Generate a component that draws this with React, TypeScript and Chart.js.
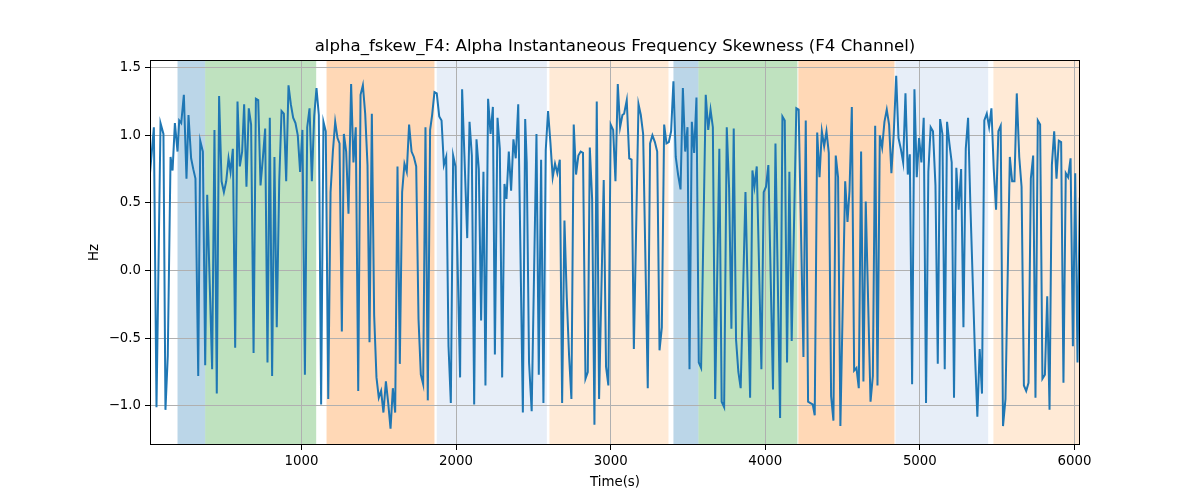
import React, { useEffect, useRef } from 'react';
import { Chart, registerables } from 'chart.js';

Chart.register(...registerables);

// sample times (s) and alpha frequency skewness values (Hz)
const times = [
  20, 45, 62, 88, 107, 120, 135, 153, 166, 181, 198, 209, 222, 239, 256, 269, 286, 300, 314, 332,
  345, 362, 377, 390, 422, 437, 452, 467, 483, 498, 513, 528, 541, 556, 571, 586, 601, 616, 629,
  644, 659, 674, 690, 705, 720, 735, 750, 765, 780, 795, 810, 825, 840, 856, 871, 886, 901, 916,
  931, 946, 961, 976, 991, 1006, 1022, 1037, 1052, 1067, 1082, 1097, 1112, 1127, 1142, 1157, 1173,
  1188, 1203, 1218, 1233, 1246,
  1261, 1274, 1289, 1304, 1321, 1336, 1351, 1367, 1382, 1397, 1412, 1427, 1440, 1455, 1470, 1485,
  1500, 1515, 1530, 1546, 1561, 1576, 1591, 1606, 1621, 1636, 1651, 1666, 1681, 1696, 1712, 1727,
  1742, 1757, 1772, 1787, 1802, 1817, 1832,
  1845, 1860, 1875, 1891, 1906, 1921, 1936, 1951, 1966, 1981, 1996, 2026, 2039, 2054, 2072, 2087,
  2102, 2117, 2132, 2147, 2162, 2177, 2190, 2207, 2223, 2238, 2251, 2268, 2283, 2298, 2313, 2326,
  2341, 2356, 2371, 2386, 2402, 2432, 2447,
  2457, 2472, 2489, 2520, 2535, 2550, 2565, 2580, 2595, 2610, 2625, 2640, 2655, 2671, 2686, 2701,
  2716, 2731, 2746, 2761, 2776, 2791, 2806, 2821, 2837, 2852, 2865, 2880, 2895, 2910, 2925, 2955,
  2970, 2985, 3000, 3016, 3031, 3046, 3061, 3076,
  3087, 3104, 3120, 3135, 3150, 3180, 3195, 3210, 3240, 3255, 3270, 3286, 3301, 3316, 3331, 3346,
  3361, 3376, 3391, 3406, 3421, 3436, 3452, 3467, 3482, 3497, 3510, 3525, 3540, 3555, 3570, 3585,
  3615, 3631, 3646, 3661, 3676,
  3703, 3718, 3734, 3751, 3766, 3781, 3796, 3811, 3826, 3841, 3872, 3902, 3917, 3930, 3945, 3975,
  3990, 4005, 4020, 4050, 4066, 4096, 4111, 4126, 4141, 4156, 4171, 4201, 4216, 4247, 4262, 4277,
  4292, 4307,
  4320, 4336, 4351, 4366, 4381, 4396, 4411, 4426, 4441, 4456, 4471, 4486, 4517, 4532, 4545, 4560,
  4575, 4590, 4605, 4620, 4635, 4650, 4681, 4696, 4711, 4726, 4741, 4756, 4771, 4786, 4801, 4816,
  4831, 4847, 4862, 4877, 4892, 4907, 4922,
  4935, 4950, 4965, 4980, 4995, 5010, 5025, 5040, 5055, 5070, 5085, 5101, 5116, 5131, 5146, 5161,
  5176, 5191, 5206, 5221, 5236, 5251, 5267, 5282, 5297, 5312, 5327, 5357, 5372, 5387, 5402, 5417,
  5433, 5448, 5463, 5478, 5493, 5508, 5523, 5538,
  5554, 5582, 5597, 5612, 5627, 5643, 5658, 5673, 5688, 5703, 5718, 5733, 5748, 5763, 5778, 5793,
  5809, 5824, 5839, 5854, 5869, 5884, 5899, 5914, 5929, 5944, 5959, 5975, 5990, 6005, 6020, 6035,
];

const hz = [
  0.72, 1.06, -1.01, 1.09, 1.01, -1.03, -0.63, 0.84, 0.74, 1.09, 0.88, 1.11, 1.09, 1.30, 0.68, 1.15, 0.83, 0.75, 0.68, -0.78,
  0.96, 0.88, -0.70, 0.56, -0.73, 1.04, -0.91, 1.29, 0.66, 0.58, 0.66, 0.83, 0.73, 0.90, -0.57, 1.25, 0.77, 0.88, 1.23,
  0.62, 1.20, 1.08, -0.61, 1.27, 1.26, 0.63, 0.83, 1.05, -0.68, 1.13, -0.78, 0.84, -0.42, 0.66, 1.18, 1.16, 0.66, 1.37,
  1.23, 1.13, 1.09, 1.00, 0.73, 1.04, -0.77, 1.06, 1.20, 0.66, 1.14, 1.35, 1.15, -0.99, 1.10, 1.03, -0.95,
  0.58, 0.88, 1.10, 0.98, 0.94,
  -0.45, 1.01, 0.88, 0.42, 1.38, 0.80, 1.06, -0.89, 1.30, 1.37, 1.16, 0.78, -0.53, 1.16, -0.33, -0.79,
  -0.94, -0.89, -1.05, -0.82, -0.98, -1.17, -0.87, -1.05, 0.77, -0.69, 0.58, 0.79, 0.73, 1.08, 0.88, 0.84,
  0.77, -0.36, -0.77, -0.84, 1.06, -0.96, 1.04,
  1.15, 1.32, 1.31, 1.14, 1.11, 0.78, 0.84, -0.56, -0.98, 0.85, 0.77, -0.79, 1.34, 0.85, 0.24, 1.10,
  0.85, -0.99, 0.97, 0.75, -0.37, 0.73, -0.85, 1.27, 1.01, 1.21, -0.62, 1.13, 0.90, -0.79, 0.64, 0.53,
  0.88, 0.59, 0.97, 0.83, 1.23, -1.05, 1.12,
  0.80, -0.68, -1.04, 1.01, -0.77, 0.82, -0.98, 0.89, 1.18, 0.95, 0.69, 0.79, 0.72, 0.82, -0.98, 0.37,
  -0.20, -0.63, -0.95, 1.08, 0.71, 0.85, 0.88, 0.87, -0.80, -0.75, 0.91, 0.53, -1.14, 1.25, -0.95, 0.67,
  -0.71, -0.85, 1.08, 1.04, 0.66, 1.38, 1.06, 1.15,
  1.16, 1.26, 0.83, 0.82, -0.58, 1.23, 1.15, 1.01, -0.87, 0.94, 1.00, 0.95, 0.88, -0.59, -0.42, 1.08,
  0.94, 0.95, 1.03, 1.40, 0.84, 0.71, 0.60, 1.35, 0.88, 1.06, -0.73, 1.10, 0.87, 1.28, -0.68, -0.72,
  1.30, 1.04, 1.19, 1.06, -0.95,
  0.90, -0.97, -1.01, 1.06, 0.61, -0.43, 1.05, -0.51, -0.75, -0.87, 0.58, -0.94, 0.74, 0.62, 0.77, -0.73,
  0.58, 0.62, 0.78, -0.88, 0.94, -1.09, 1.14, 1.11, -0.68, 0.73, -0.52, 1.20, 1.19, -0.64, 1.11, -0.97,
  -0.98, -0.99,
  -1.07, 1.02, 0.69, 1.03, 0.92, 1.03, 0.87, -0.93, -1.11, 0.85, 0.69, -1.15, 0.66, 0.36, 0.59, 1.21,
  -0.74, -0.72, -0.87, 0.88, -0.82, 0.51, -0.97, -0.78, 1.07, -0.85, 1.00, 0.91, 1.10, 1.19, 1.08, 0.72,
  1.01, 1.44, 0.98, 0.90, 0.80, 1.31, 0.71,
  0.86, -0.84, 1.34, 0.69, 0.98, 0.80, 1.13, -0.98, 0.73, 1.06, 1.03, 0.63, -0.69, 1.12, 1.01, -0.73,
  1.10, 0.94, 0.80, -0.94, 0.76, 0.45, 0.75, -0.42, 0.90, 1.13, 0.48, -0.63, -1.08, -0.58, -0.91, 1.11,
  1.16, 1.06, 1.20, 0.75, 0.45, 1.03, 1.07, -1.15,
  -0.95, 0.84, 0.66, 0.66, 1.31, 0.84, 0.62, -0.85, -0.89, -0.83, 0.68, 0.85, -0.94, 1.11, 1.08, -0.80,
  -0.77, -0.19, -1.03, 0.78, 1.03, 0.68, 0.96, 0.95, -0.83, 0.72, 0.69, 0.83, -0.56, 0.72, -0.68, 0.54,
];

// shaded stage spans (s)
const bandStart = [198, 377, 1162, 1875, 2604, 3406, 3568, 4214, 4842, 5476];
const bandEnd = [377, 1095, 1860, 2587, 3374, 3568, 4208, 4836, 5442, 6036];
const bandColor = [
  'rgba(31,119,180,0.3)',
  'rgba(44,160,44,0.3)',
  'rgba(255,127,14,0.3)',
  'rgba(174,199,232,0.3)',
  'rgba(255,187,120,0.3)',
  'rgba(31,119,180,0.3)',
  'rgba(44,160,44,0.3)',
  'rgba(255,127,14,0.3)',
  'rgba(174,199,232,0.3)',
  'rgba(255,187,120,0.3)',
];

const xTicks = [1000, 2000, 3000, 4000, 5000, 6000];
const yTicks = [-1.0, -0.5, 0.0, 0.5, 1.0, 1.5];

const FONT = '"DejaVu Sans", sans-serif';

const decorPlugin = {
  id: 'decor',
  beforeDraw(chart: any) {
    const { ctx, chartArea } = chart;
    const x = chart.scales.x;
    ctx.save();
    ctx.beginPath();
    ctx.rect(chartArea.left, chartArea.top, chartArea.right - chartArea.left, chartArea.bottom - chartArea.top);
    ctx.clip();
    for (let i = 0; i < bandStart.length; i++) {
      const x0 = x.getPixelForValue(bandStart[i]);
      const x1 = x.getPixelForValue(bandEnd[i]);
      ctx.fillStyle = bandColor[i];
      ctx.fillRect(x0, chartArea.top, x1 - x0, chartArea.bottom - chartArea.top);
    }
    ctx.restore();
  },
  afterDraw(chart: any) {
    const { ctx, chartArea } = chart;
    const cx = (chartArea.left + chartArea.right) / 2;
    const cy = (chartArea.top + chartArea.bottom) / 2;
    ctx.save();
    ctx.strokeStyle = '#000';
    ctx.lineWidth = 1;
    ctx.strokeRect(chartArea.left + 0.5, chartArea.top + 0.5, chartArea.right - chartArea.left - 1, chartArea.bottom - chartArea.top - 1);
    ctx.fillStyle = '#000';
    ctx.textAlign = 'center';
    ctx.textBaseline = 'alphabetic';
    ctx.font = `16.6px ${FONT}`;
    ctx.fillText('alpha_fskew_F4: Alpha Instantaneous Frequency Skewness (F4 Channel)', cx, 51);
    ctx.font = `13.33px ${FONT}`;
    ctx.fillText('Time(s)', cx, 486);
    ctx.translate(98, cy);
    ctx.rotate(-Math.PI / 2);
    ctx.fillText('Hz', 0, 0);
    ctx.restore();
  },
};

const App: React.FC = () => {
  const canvasRef = useRef<HTMLCanvasElement | null>(null);
  const chartRef = useRef<Chart | null>(null);

  useEffect(() => {
    if (!canvasRef.current) return;
    if (chartRef.current) chartRef.current.destroy();

    const points = times.map((t, i) => ({ x: t, y: hz[i] }));
    const tickFont = { family: FONT, size: 13.33 };

    chartRef.current = new Chart(canvasRef.current, {
      type: 'line',
      data: {
        datasets: [
          {
            data: points,
            borderColor: '#1f77b4',
            borderWidth: 2,
            pointRadius: 0,
            tension: 0,
            fill: false,
          },
        ],
      },
      options: {
        animation: false,
        responsive: false,
        events: [],
        layout: { padding: { top: 60, right: 120, bottom: 0, left: 0 } },
        plugins: { legend: { display: false }, tooltip: { enabled: false }, title: { display: false } },
        scales: {
          x: {
            type: 'linear',
            min: 20,
            max: 6036,
            afterBuildTicks: (s: any) => {
              s.ticks = xTicks.map((v) => ({ value: v }));
            },
            afterFit: (s: any) => {
              s.height = 55;
            },
            grid: { color: '#b0b0b0', lineWidth: 1, tickColor: '#000', tickLength: 5, tickWidth: 1 },
            border: { display: false },
            ticks: {
              autoSkip: false,
              maxRotation: 0,
              padding: 4,
              color: '#000',
              font: tickFont,
              callback: (v: any) => String(v),
            },
          },
          y: {
            type: 'linear',
            min: -1.29,
            max: 1.557,
            afterBuildTicks: (s: any) => {
              s.ticks = yTicks.map((v) => ({ value: v }));
            },
            afterFit: (s: any) => {
              s.width = 150;
            },
            grid: { color: '#b0b0b0', lineWidth: 1, tickColor: '#000', tickLength: 5, tickWidth: 1 },
            border: { display: false },
            ticks: {
              autoSkip: false,
              padding: 4,
              color: '#000',
              font: tickFont,
              callback: (v: any) => Number(v).toFixed(1).replace('-', '\u2212'),
            },
          },
        },
      },
      plugins: [decorPlugin],
    });

    return () => {
      if (chartRef.current) {
        chartRef.current.destroy();
        chartRef.current = null;
      }
    };
  }, []);

  return (
    <div style={{ position: 'absolute', left: 0, top: 0, width: 1200, height: 500, background: '#fff' }}>
      <canvas ref={canvasRef} width={1200} height={500}></canvas>
    </div>
  );
};

export default App;
